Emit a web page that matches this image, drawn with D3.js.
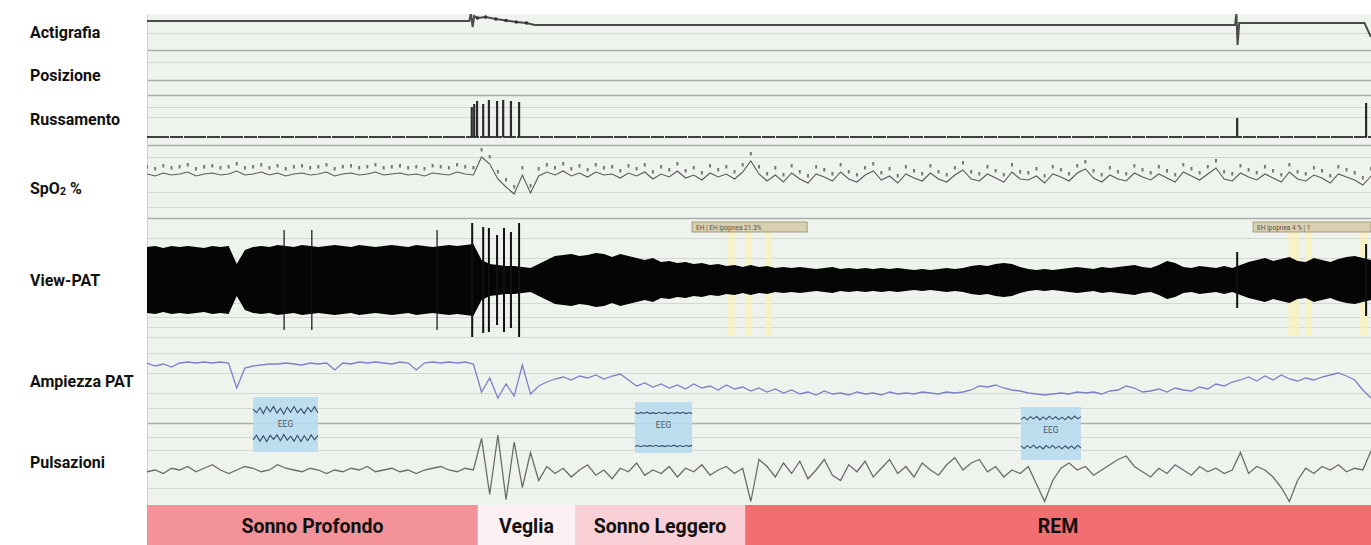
<!DOCTYPE html>
<html>
<head>
<meta charset="utf-8">
<script src="https://cdn.jsdelivr.net/npm/d3@7"></script>
<style>
  body { margin: 0; background: #fff; }
  svg { display: block; font-family: Roboto, "Open Sans", sans-serif; }
</style>
</head>
<body>
<script>
// ---- data (time in seconds, one sample every 2 s for the sampled traces) ----
const stageNames = ["Sonno Profondo", "Veglia", "Sonno Leggero", "REM"];
const stageStart = [0, 81.1, 104.9, 146.6];
const stageEnd = [81.1, 104.9, 146.6, 300];

const channelNames = ["Actigrafia", "Posizione", "Russamento", "SpO2 %", "View-PAT", "Ampiezza PAT", "Pulsazioni"];

// actigraphy: [time, counts]
const actigraphy = [
  [0, 25], [79, 25], [79.4, 33], [79.8, 19], [80.2, 30], [81, 28], [83, 29], [85.5, 27],
  [88, 25.5], [90.5, 24], [93, 23], [95, 21], [266.7, 21], [267, 33], [267.3, 1],
  [267.7, 23], [298.4, 23], [300, 9]
];
const actiDots = [81, 83, 85.5, 88, 90.5, 93];

// snoring events (time, level dB above floor)
const snoreTimes = [79.6, 80.2, 80.9, 82.4, 83.8, 85.8, 87.3, 89.2, 91.2, 267.2, 298.8];
const snoreLevels = [30, 33, 36, 33, 37, 36, 37, 36, 35, 19, 34];

// SpO2 %
const spo2 = [
  96, 95.6, 96.2, 95.8, 96, 96.4, 95.6, 96, 96.2, 95.8,
  96, 96.6, 95.8, 96, 96.4, 95.8, 96.2, 95.6, 96, 96.2,
  95.8, 96, 96.4, 95.6, 96, 96.2, 95.8, 96, 96.4, 95.8,
  96, 96.2, 95.8, 96, 95.6, 96.2, 96, 95.8, 96.4, 96,
  95.8, 99.4, 98, 95, 93.4, 92, 95.8, 92.2, 95.6, 96.4,
  95.8, 96.6, 95.6, 96.2, 95.4, 96.4, 95.8, 96, 95.2, 96.2,
  95.6, 96.4, 95, 96, 95.4, 96.6, 95.2, 95.8, 94.8, 96.2,
  95.4, 96, 95, 96.4, 98.6, 96, 94.6, 95.8, 94.4, 96.2,
  95, 94.2, 96, 95.4, 94.6, 96.4, 95, 94.4, 95.8, 96.6,
  94.8, 95.6, 94.2, 96, 95.2, 94.6, 96.2, 95, 94.4, 95.8,
  96.8, 95, 94.6, 96, 95.2, 94.4, 96.4, 95, 94.8, 95.6,
  94.2, 96, 95.4, 94.6, 96.2, 97, 95.2, 94.4, 95.8, 95,
  94.6, 96.2, 95.4, 94.8, 96, 95.2, 94.4, 96.4, 95.6, 94.8,
  96, 97.2, 95, 94.6, 96.2, 95.4, 94.8, 96, 95.2, 94.4,
  96.4, 95, 94.6, 95.8, 95.2, 94.2, 96, 95.4, 94.8, 93.8,
  95.6
];

// View-PAT envelope (half amplitude, arbitrary units)
const patAmp = [
  33, 34, 32, 34, 33, 34, 33, 32, 34, 33,
  34, 16, 30, 33, 34, 33, 35, 34, 33, 35,
  34, 33, 34, 35, 34, 33, 35, 34, 33, 34,
  35, 34, 33, 35, 34, 33, 34, 35, 34, 35,
  36, 20, 16, 15, 14, 14, 13, 12, 16, 20,
  24, 25, 26, 24, 25, 27, 26, 23, 26, 24,
  22, 20, 22, 18, 19, 17, 18, 16, 17, 15,
  16, 14, 15, 13, 15, 13, 14, 12, 13, 12,
  13, 12, 11, 12, 13, 11, 12, 11, 12, 11,
  12, 11, 12, 11, 10, 11, 10, 11, 12, 11,
  12, 14, 15, 14, 16, 17, 16, 13, 11, 10,
  11, 10, 11, 12, 13, 12, 11, 13, 12, 13,
  14, 15, 13, 12, 15, 19, 17, 13, 12, 14,
  13, 12, 14, 12, 15, 18, 20, 22, 19, 21,
  23, 19, 18, 22, 20, 18, 21, 23, 24, 22,
  20
];
const patSpikeTimes = [33.6, 40.4, 71.1, 79.7, 82.4, 83.8, 85.8, 87.5, 89.2, 91.2, 267.2, 298.8];
const patSpikeAmp = [50, 50, 50, 57, 53, 52, 45, 52, 48, 57, 28, 36];

// PAT amplitude
const ampPat = [
  47, 44, 46, 43, 47, 48, 47, 48, 47, 48,
  47, 22, 42, 44, 45, 46, 46, 47, 46, 45,
  47, 46, 47, 40, 47, 46, 48, 47, 48, 47,
  46, 48, 47, 40, 47, 48, 47, 48, 47, 48,
  46, 18, 32, 12, 26, 14, 45, 16, 24, 28,
  31, 33, 30, 34, 32, 35, 31, 34, 36, 30,
  24, 27, 23, 26, 22, 25, 21, 26, 22, 24,
  20, 25, 21, 23, 19, 22, 18, 21, 17, 20,
  16, 18, 15, 19, 16, 17, 15, 18, 16, 17,
  15, 18, 16, 17, 16, 18, 17, 16, 18, 17,
  18, 20, 24, 23, 25, 22, 20, 19, 17, 16,
  15, 16, 17, 16, 18, 17, 18, 16, 19, 20,
  24, 22, 18, 19, 21, 18, 22, 20, 19, 23,
  21, 26, 24, 28, 30, 33, 29, 34, 30, 35,
  31, 29, 32, 30, 33, 35, 37, 34, 30, 20,
  12
];

// pulse rate, bpm
const pulseBpm = [
  69, 70, 68, 71, 70, 72, 69, 71, 73, 70,
  68, 70, 72, 71, 69, 70, 73, 71, 70, 69,
  71, 70, 68, 70, 69, 71, 70, 72, 69, 70,
  71, 69, 70, 68, 70, 71, 72, 70, 69, 71,
  70, 88, 56, 90, 53, 86, 60, 80, 64, 72,
  68, 71, 66, 70, 73, 67, 70, 65, 71, 69,
  74, 67, 70, 68, 72, 66, 71, 69, 73, 67,
  70, 72, 68, 71, 52, 76, 72, 66, 74, 68,
  75, 65, 70, 76, 67, 64, 73, 69, 75, 66,
  71, 76, 68, 72, 66, 74, 70, 67, 73, 77,
  70, 74, 76, 69, 72, 66, 70, 68, 72, 62,
  52, 64, 71, 74, 70, 72, 67, 70, 73, 76,
  78, 72, 69, 66, 71, 68, 73, 70, 67, 72,
  69, 71, 68, 70, 80, 68, 72, 70, 66, 60,
  52, 64, 71, 68, 72, 70, 73, 69, 71, 70,
  81
];

// EEG insets (µV)
const eegDeepA = [10, -30, 25, -40, 35, -20, 40, -35, 20, -45, 30, -25, 38, -30, 15, -40, 28, -20, 35, -30];
const eegDeepB = [-20, 30, -35, 25, -40, 30, -15, 35, -30, 40, -25, 20, -35, 30, -40, 25, -30, 35, -20, 30];
const eegLightA = [5, -8, 6, -5, 9, -6, 4, -7, 8, -5, 6, -9, 5, -6, 7, -4, 8, -6, 5, -7];
const eegLightB = [-6, 5, -8, 6, -4, 7, -5, 8, -6, 4, -7, 6, -5, 9, -6, 5, -8, 6, -4, 7];
const eegRemA = [-15, 10, -20, 15, -10, 18, -22, 12, -16, 20, -12, 14, -18, 10, -20, 16, -14, 22, -10, 15];
const eegRemB = [12, -18, 15, -10, 20, -14, 10, -22, 16, -12, 18, -15, 10, -20, 14, -16, 12, -18, 20, -12];
const eegStart = [26, 119.6, 214.2];
const eegEnd = [41.9, 133.6, 228.9];
const eegLabels = ["EEG", "EEG", "EEG"];

// event annotations on View-PAT
const annStart = [133.6, 271.1];
const annEnd = [161.8, 300];
const annText = ["EH | EH Ipopnea 21.3%", "EH Ipopnea 4 % | 1"];
const markStart = [142.2, 146.6, 151.5, 279.7, 283.8, 297.3];
const markEnd = [144.1, 148.3, 153.2, 282.6, 285.5, 299.2];

// chart-paper grid (mm from top of the trace area)
const gridMinor = [19, 48, 93, 103, 143, 178, 193, 224, 244, 289, 303, 313, 323, 339, 359, 379, 394, 423, 436, 474];
const gridMajor = [36, 66, 81, 131, 204, 409];

// ---- layout ----
const W = 1371, H = 545;
const plot = { left: 147, right: 1371, top: 14, bottom: 505 };
const labelY = [32, 75, 119, 188, 280, 381, 462];
const stageColors = ["#f39298", "#fdf0f3", "#f9d0d5", "#f26e71"];

const x = d3.scaleLinear().domain([0, 300]).range([plot.left, plot.right]);
const tOf = (d, i) => i * 2;
const yGrid = d3.scaleLinear().domain([0, 490]).range([plot.top, plot.bottom - 1]);
const yAct = d3.scaleLinear().domain([0, 32]).range([46, 14]);
const ySnore = d3.scaleLinear().domain([0, 40]).range([137, 97]);
const ySpo2 = d3.scaleLinear().domain([90, 100]).range([204, 154]);
const yPat = d3.scaleLinear().domain([-40, 40]).range([320, 240]);
const yAmp = d3.scaleLinear().domain([0, 60]).range([410, 350]);
const yHr = d3.scaleLinear().domain([50, 100]).range([505, 417.5]);
const yEeg = d3.scaleLinear().domain([-50, 50]).range([4.5, -4.5]);
const eegBox = [
  { top: 397, bottom: 452, rowA: 410, rowB: 438, label: 424 },
  { top: 402, bottom: 453, rowA: 413, rowB: 446, label: 425 },
  { top: 407, bottom: 460, rowA: 418, rowB: 447, label: 430 }
];
const eegData = [[eegDeepA, eegDeepB], [eegLightA, eegLightB], [eegRemA, eegRemB]];

const svg = d3.select("body").append("svg").attr("width", W).attr("height", H);

svg.append("defs").append("clipPath").attr("id", "plot-clip")
  .append("rect")
  .attr("x", plot.left).attr("y", plot.top)
  .attr("width", plot.right - plot.left).attr("height", plot.bottom - plot.top);

// background
svg.append("rect")
  .attr("x", plot.left).attr("y", plot.top)
  .attr("width", plot.right - plot.left).attr("height", plot.bottom - plot.top)
  .attr("fill", "#eff3ee");

const g = svg.append("g").attr("clip-path", "url(#plot-clip)");

// grid
g.selectAll("line.minor").data(gridMinor).join("line")
  .attr("class", "minor")
  .attr("x1", plot.left).attr("x2", plot.right)
  .attr("y1", d => Math.round(yGrid(d)) + 0.5).attr("y2", d => Math.round(yGrid(d)) + 0.5)
  .attr("stroke", "#d3d9d1").attr("stroke-width", 1);
g.selectAll("line.major").data(gridMajor).join("line")
  .attr("class", "major")
  .attr("x1", plot.left).attr("x2", plot.right)
  .attr("y1", d => Math.round(yGrid(d)) + 0.5).attr("y2", d => Math.round(yGrid(d)) + 0.5)
  .attr("stroke", "#a9b0a7").attr("stroke-width", 1.4);
g.append("line")
  .attr("x1", plot.left + 0.5).attr("x2", plot.left + 0.5)
  .attr("y1", plot.top).attr("y2", plot.bottom)
  .attr("stroke", "#cfd5cd");

// yellow event marks
g.selectAll("rect.mark").data(markStart).join("rect")
  .attr("class", "mark")
  .attr("x", d => x(d))
  .attr("width", (d, i) => x(markEnd[i]) - x(d))
  .attr("y", 232).attr("height", 104)
  .attr("fill", "#fbf1b8").attr("opacity", 0.7);

// actigraphy
g.append("path")
  .datum(actigraphy)
  .attr("d", d3.line().x(d => x(d[0])).y(d => yAct(d[1])))
  .attr("fill", "none").attr("stroke", "#4a4a4a").attr("stroke-width", 2);
g.selectAll("circle.acti").data(actiDots).join("circle")
  .attr("class", "acti")
  .attr("cx", d => x(d))
  .attr("cy", d => yAct(d3.least(actigraphy, p => Math.abs(p[0] - d))[1]))
  .attr("r", 1.8).attr("fill", "#333");

// snoring
g.append("line")
  .attr("x1", plot.left).attr("x2", plot.right)
  .attr("y1", ySnore(0)).attr("y2", ySnore(0))
  .attr("stroke", "#3f3f3f").attr("stroke-width", 2).attr("stroke-dasharray", "22 1 13 1");
g.selectAll("line.snore").data(snoreTimes).join("line")
  .attr("class", "snore")
  .attr("x1", d => x(d)).attr("x2", d => x(d))
  .attr("y1", ySnore(0)).attr("y2", (d, i) => ySnore(snoreLevels[i]))
  .attr("stroke", "#2b2b2b").attr("stroke-width", 2.2);

// SpO2
g.append("path")
  .datum(spo2)
  .attr("d", d3.line().x((d, i) => x(tOf(d, i))).y(d => ySpo2(d)))
  .attr("fill", "none").attr("stroke", "#5a5a5a").attr("stroke-width", 1.1);
g.selectAll("rect.spo2").data(spo2).join("rect")
  .attr("class", "spo2")
  .attr("x", (d, i) => x(tOf(d, i)) - 1)
  .attr("y", d => ySpo2(d) - 9)
  .attr("width", 2).attr("height", 3.5)
  .attr("fill", "#777");

// View-PAT
g.append("path")
  .datum(patAmp)
  .attr("d", d3.area()
    .x((d, i) => x(tOf(d, i)))
    .y0(d => yPat(-d))
    .y1(d => yPat(d)))
  .attr("fill", "#050505");
g.selectAll("line.patspike").data(patSpikeTimes).join("line")
  .attr("class", "patspike")
  .attr("x1", d => x(d)).attr("x2", d => x(d))
  .attr("y1", (d, i) => yPat(patSpikeAmp[i])).attr("y2", (d, i) => yPat(-patSpikeAmp[i]))
  .attr("stroke", "#111").attr("stroke-width", (d, i) => i > 2 ? 2 : 1.2);

// annotation boxes
const ann = g.selectAll("g.ann").data(annStart).join("g").attr("class", "ann");
ann.append("rect")
  .attr("x", d => x(d)).attr("width", (d, i) => x(annEnd[i]) - x(d))
  .attr("y", 222).attr("height", 10)
  .attr("fill", "#d9cfb1").attr("stroke", "#948a6c").attr("stroke-width", 0.8);
ann.append("text")
  .attr("x", d => x(d) + 4).attr("y", 229.5)
  .attr("font-size", 6.5).attr("fill", "#5a5240")
  .text((d, i) => annText[i]);

// PAT amplitude
g.append("path")
  .datum(ampPat)
  .attr("d", d3.line().x((d, i) => x(tOf(d, i))).y(d => yAmp(d)))
  .attr("fill", "none").attr("stroke", "#7d80c6").attr("stroke-width", 1.3);

// EEG insets
const eeg = g.selectAll("g.eeg").data(eegStart).join("g").attr("class", "eeg");
eeg.append("rect")
  .attr("x", d => x(d)).attr("width", (d, i) => x(eegEnd[i]) - x(d))
  .attr("y", (d, i) => eegBox[i].top).attr("height", (d, i) => eegBox[i].bottom - eegBox[i].top)
  .attr("fill", "#b7dcee").attr("opacity", 0.9);
eeg.append("text")
  .attr("x", (d, i) => (x(d) + x(eegEnd[i])) / 2)
  .attr("y", (d, i) => eegBox[i].label)
  .attr("text-anchor", "middle").attr("dominant-baseline", "central")
  .attr("font-size", 8.5).attr("fill", "#4f5b63")
  .text((d, i) => eegLabels[i]);
eeg.each(function (d, i) {
  const sel = d3.select(this);
  const span = eegEnd[i] - d;
  [["rowA", 0], ["rowB", 1]].forEach(([row, k]) => {
    const vals = eegData[i][k];
    sel.append("path")
      .datum(vals)
      .attr("d", d3.line()
        .x((v, j) => x(d + span * j / (vals.length - 1)))
        .y(v => eegBox[i][row] + yEeg(v)))
      .attr("fill", "none").attr("stroke", "#3a4d6a").attr("stroke-width", 1.1);
  });
});

// pulse rate
g.append("path")
  .datum(pulseBpm)
  .attr("d", d3.line().x((d, i) => x(tOf(d, i))).y(d => yHr(d)))
  .attr("fill", "none").attr("stroke", "#6b6b6b").attr("stroke-width", 1.3);

// sleep stages
const stages = svg.selectAll("g.stage").data(stageNames).join("g").attr("class", "stage");
stages.append("rect")
  .attr("x", (d, i) => x(stageStart[i]))
  .attr("width", (d, i) => x(stageEnd[i]) - x(stageStart[i]))
  .attr("y", plot.bottom).attr("height", H - plot.bottom)
  .attr("fill", (d, i) => stageColors[i]);
stages.append("text")
  .attr("x", (d, i) => (x(stageStart[i]) + x(stageEnd[i])) / 2)
  .attr("y", (plot.bottom + H) / 2 + 1)
  .attr("text-anchor", "middle").attr("dominant-baseline", "central")
  .attr("font-size", 19.5).attr("font-weight", 700).attr("fill", "#111")
  .text(d => d);

// channel labels
svg.selectAll("text.label").data(channelNames).join("text")
  .attr("class", "label")
  .attr("x", 30).attr("y", (d, i) => labelY[i])
  .attr("dominant-baseline", "central")
  .attr("font-size", 16).attr("font-weight", 700).attr("fill", "#111")
  .each(function (d) {
    const t = d3.select(this);
    if (d.startsWith("SpO2")) {
      t.append("tspan").text("SpO");
      t.append("tspan").text("2").attr("font-size", 10.5).attr("dy", 3);
      t.append("tspan").text(" %").attr("dy", -3);
    } else {
      t.text(d);
    }
  });
</script>
</body>
</html>
